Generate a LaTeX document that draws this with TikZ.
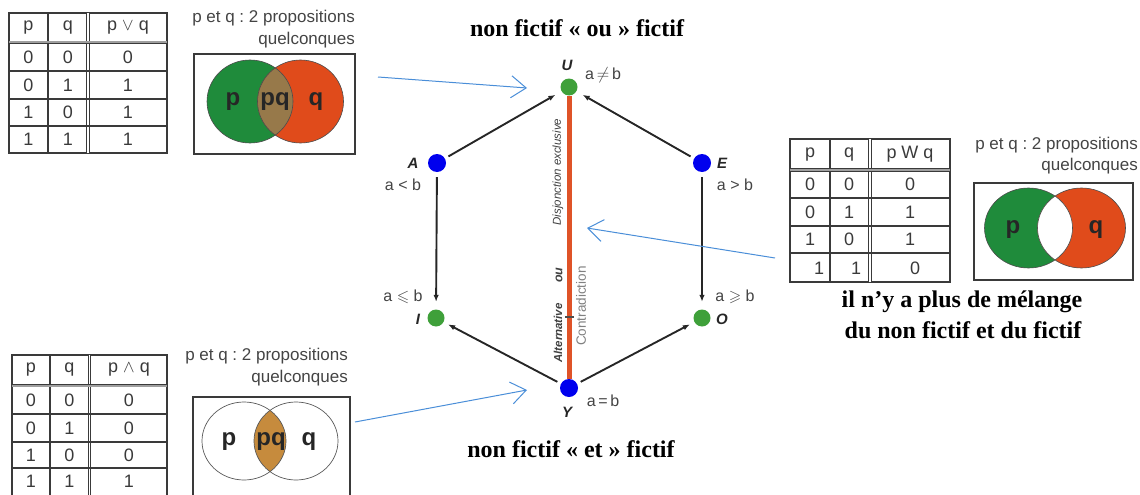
\documentclass[tikz,border=0pt]{standalone}
\usepackage{fontspec}
\usepackage{amssymb}
\setmainfont{Liberation Serif}
\setsansfont{Liberation Sans}
\usetikzlibrary{arrows.meta}
\frenchspacing
\definecolor{vgreen}{HTML}{1F8B3B}
\definecolor{vorange}{HTML}{E04B1B}
\definecolor{vbrown}{HTML}{97794A}
\definecolor{vgold}{HTML}{C68B3D}
\definecolor{nblue}{HTML}{0000EE}
\definecolor{ngreen}{HTML}{3FA03A}
\definecolor{rline}{HTML}{DF5328}
\definecolor{barrow}{HTML}{4A8ED8}
\definecolor{tline}{HTML}{3A3A3A}
\definecolor{lgray}{HTML}{444444}
\tikzset{
  tl/.style={draw=tline, line width=1.2pt},
  vdbl/.style={draw=tline, line width=0.8pt, double=white, double distance=1.6pt},
  hdbl/.style={draw=tline, line width=0.8pt, double=gray!75, double distance=2pt},
  cell/.style={font=\sffamily\fontsize{18}{20}\selectfont, text=tline, inner sep=0pt},
  captxt/.style={font=\sffamily\fontsize{17}{20}\selectfont, text=lgray, anchor=east, inner sep=0pt},
  vbox/.style={draw=tline, line width=1.8pt},
  vlab/.style={font=\sffamily\bfseries\fontsize{24}{26}\selectfont, text=black!85, inner sep=0pt},
  titletxt/.style={font=\bfseries\fontsize{24}{28}\selectfont, inner sep=0pt},
  bnode/.style={circle, fill=nblue, inner sep=0pt, minimum size=18pt},
  gnode/.style={circle, fill=ngreen, inner sep=0pt, minimum size=17pt},
  vname/.style={font=\sffamily\bfseries\itshape\fontsize{15}{17}\selectfont, text=black!85, inner sep=0pt},
  rel/.style={font=\sffamily\fontsize{16}{18}\selectfont, text=lgray, inner sep=0pt},
  harrow/.style={draw=black!85, line width=1.9pt, -{Latex[length=7pt,width=5.5pt]}},
  bluearrow/.style={draw=barrow, line width=1pt, -{Straight Barb[length=15pt,width=22pt,line width=1pt]}},
  vert/.style={rotate=90, font=\sffamily\itshape\fontsize{11.5}{13}\selectfont, text=black!75, inner sep=0pt}
}
\begin{document}
\begin{tikzpicture}[x=1pt,y=-1pt]
\useasboundingbox (0,0) rectangle (1140,495);

% ---------- top-left table ----------
\draw[tl] (9,13) rectangle (167,153);
\draw[tl] (48,13) -- (48,153);
\draw[vdbl] (88,13) -- (88,153);
\foreach \yy in {71,99,126} \draw[tl] (9,\yy) -- (167,\yy);
\draw[hdbl] (9,42.5) -- (167,42.5);
\node[cell] (t1h1) at (28.5,27.5) {p};
\node[cell] (t1h2) at (68,27.5) {q};
\node[cell] (t1h3) at (128,27.5) {p $\vee$ q};
\foreach \yy/\a/\b/\c [count=\i] in {57/0/0/0, 85/0/1/1, 112.5/1/0/1, 139.5/1/1/1}{
  \node[cell] (t1a\i) at (28.5,\yy) {\a};
  \node[cell] (t1b\i) at (68,\yy) {\b};
  \node[cell] (t1c\i) at (128,\yy) {\c};
}

% ---------- top venn ----------
\node[captxt] (c1a) at (355,18) {p et q : 2 propositions};
\node[captxt] (c1b) at (355,40) {quelconques};
\draw[vbox] (194,54) rectangle (355,154);
\fill[vgreen] (250,101.5) ellipse [x radius=43pt, y radius=41.5pt];
\fill[vorange] (300.5,101.5) ellipse [x radius=43pt, y radius=41.5pt];
\begin{scope}
  \clip (250,101.5) ellipse [x radius=43pt, y radius=41.5pt];
  \fill[vbrown] (300.5,101.5) ellipse [x radius=43pt, y radius=41.5pt];
\end{scope}
\draw[black!70, line width=0.6pt] (250,101.5) ellipse [x radius=43pt, y radius=41.5pt];
\draw[black!70, line width=0.6pt] (300.5,101.5) ellipse [x radius=43pt, y radius=41.5pt];
\node[vlab] (v1p) at (233,102) {p};
\node[vlab] (v1pq) at (275,102) {pq};
\node[vlab] (v1q) at (316,102) {q};

% ---------- bottom-left table ----------
\draw[tl] (12,498) -- (12,355) -- (167,355) -- (167,498);
\draw[tl] (50,355) -- (50,498);
\draw[vdbl] (89.5,355) -- (89.5,498);
\foreach \yy in {414,442,468} \draw[tl] (12,\yy) -- (167,\yy);
\draw[hdbl] (12,385.5) -- (167,385.5);
\node[cell] (t2h1) at (31,370) {p};
\node[cell] (t2h2) at (69.5,370) {q};
\node[cell] (t2h3) at (129,370) {p $\wedge$ q};
\foreach \yy/\a/\b/\c [count=\i] in {400/0/0/0, 428/0/1/0, 455/1/0/0, 481.5/1/1/1}{
  \node[cell] (t2a\i) at (31,\yy) {\a};
  \node[cell] (t2b\i) at (69.5,\yy) {\b};
  \node[cell] (t2c\i) at (129,\yy) {\c};
}

% ---------- bottom venn ----------
\node[captxt] (c2a) at (348,356) {p et q : 2 propositions};
\node[captxt] (c2b) at (348,378) {quelconques};
\draw[vbox] (193,397) rectangle (350,498);
\begin{scope}
  \clip (244,441) ellipse [x radius=42pt, y radius=39pt];
  \fill[vgold] (296,441) ellipse [x radius=42pt, y radius=39pt];
\end{scope}
\draw[black!65, line width=0.7pt] (244,441) ellipse [x radius=42pt, y radius=39pt];
\draw[black!65, line width=0.7pt] (296,441) ellipse [x radius=42pt, y radius=39pt];
\node[vlab] (v2p) at (229,442) {p};
\node[vlab] (v2pq) at (271,442) {pq};
\node[vlab] (v2q) at (309,442) {q};

% ---------- right table ----------
\draw[tl] (790,139) rectangle (950,282);
\draw[tl] (830,139) -- (830,282);
\draw[vdbl] (870,139) -- (870,282);
\foreach \yy in {198,226,253} \draw[tl] (790,\yy) -- (950,\yy);
\draw[hdbl] (790,170) -- (950,170);
\node[cell] (t3h1) at (810,154.5) {p};
\node[cell] (t3h2) at (849,154.5) {q};
\node[cell] (t3h3) at (910,154.5) {p W q};
\foreach \yy/\a/\b/\c [count=\i] in {184/0/0/0, 212/0/1/1, 239.5/1/0/1}{
  \node[cell] (t3a\i) at (810,\yy) {\a};
  \node[cell] (t3b\i) at (849,\yy) {\b};
  \node[cell] (t3c\i) at (910,\yy) {\c};
}
\node[cell] (t3a4) at (819,268) {1};
\node[cell] (t3b4) at (856,268) {1};
\node[cell] (t3c4) at (915,268) {0};

% ---------- right venn ----------
\node[captxt] (c3a) at (1138,145) {p et q : 2 propositions};
\node[captxt] (c3b) at (1138,166) {quelconques};
\draw[vbox] (974,183) rectangle (1133,280);
\fill[vgreen] (1028.5,228) ellipse [x radius=44pt, y radius=40pt];
\fill[vorange] (1081.5,228) ellipse [x radius=44pt, y radius=40pt];
\begin{scope}
  \clip (1028.5,228) ellipse [x radius=44pt, y radius=40pt];
  \fill[white] (1081.5,228) ellipse [x radius=44pt, y radius=40pt];
\end{scope}
\draw[black!70, line width=0.6pt] (1028.5,228) ellipse [x radius=44pt, y radius=40pt];
\draw[black!70, line width=0.6pt] (1081.5,228) ellipse [x radius=44pt, y radius=40pt];
\node[vlab] (v3p) at (1013,230) {p};
\node[vlab] (v3q) at (1096,230) {q};

% ---------- titles ----------
\node[titletxt] (ttop) at (577,28) {non fictif « ou » fictif};
\node[titletxt] (tbot) at (571,449) {non fictif « et » fictif};
\node[titletxt] (tr1) at (962,302) {il n’y a plus de mélange};
\node[titletxt] (tr2) at (963,330) {du non fictif et du fictif};

% ---------- hexagon ----------
\node[gnode] (U) at (569,87) {};
\node[bnode] (A) at (437,163) {};
\node[bnode] (E) at (702,163) {};
\node[gnode] (I) at (436,318) {};
\node[gnode] (O) at (702,318) {};
\node[bnode] (Y) at (569,388) {};

\draw[rline, line width=5pt] (U.south) -- (Y.north);
\draw[black!70, line width=1.2pt] (565,317) -- (574,317);

\draw[harrow, shorten <=4pt, shorten >=7pt] (A) -- (U);
\draw[harrow, shorten <=4pt, shorten >=7pt] (E) -- (U);
\draw[harrow, shorten <=5pt, shorten >=7.5pt] (A) -- (I);
\draw[harrow, shorten <=5pt, shorten >=7.5pt] (E) -- (O);
\draw[harrow, shorten <=4pt, shorten >=5pt] (Y) -- (I);
\draw[harrow, shorten <=4pt, shorten >=5pt] (Y) -- (O);

\node[vname] (lU) at (567,65) {U};
\node[vname] (lA) at (413,163) {A};
\node[vname] (lE) at (722,163) {E};
\node[vname] (lI) at (418,319) {I};
\node[vname] (lO) at (722,319) {O};
\node[vname] (lY) at (567,412) {Y};
\node[rel] (rU) at (603,75) {a$\,\neq\,$b};
\node[rel] (rA) at (403,185) {a < b};
\node[rel] (rE) at (735,185) {a > b};
\node[rel] (rI) at (403,297) {a $\leqslant$ b};
\node[rel] (rO) at (735,297) {a $\geqslant$ b};
\node[rel] (rY) at (603,401) {a\,=\,b};

\node[vert] (dis) at (558,172) {Disjonction exclusive};
\node[vert, font=\sffamily\bfseries\itshape\fontsize{12.5}{14}\selectfont] (ou) at (559,275) {ou};
\node[vert, font=\sffamily\bfseries\itshape\fontsize{11.5}{13}\selectfont] (alt) at (558,333) {Alternative};
\node[vert, font=\sffamily\fontsize{13.5}{15}\selectfont, text=black!50] (con) at (581,306) {Contradiction};

% ---------- blue arrows ----------
\coordinate (b1s) at (378,77);
\coordinate (b1e) at (527,88);
\coordinate (b2s) at (775,258);
\coordinate (b2e) at (587,228);
\coordinate (b3s) at (355,422);
\coordinate (b3e) at (527,390);
\draw[bluearrow] (b1s) -- (b1e);
\draw[bluearrow] (b2s) -- (b2e);
\draw[bluearrow] (b3s) -- (b3e);
\end{tikzpicture}
\end{document}
